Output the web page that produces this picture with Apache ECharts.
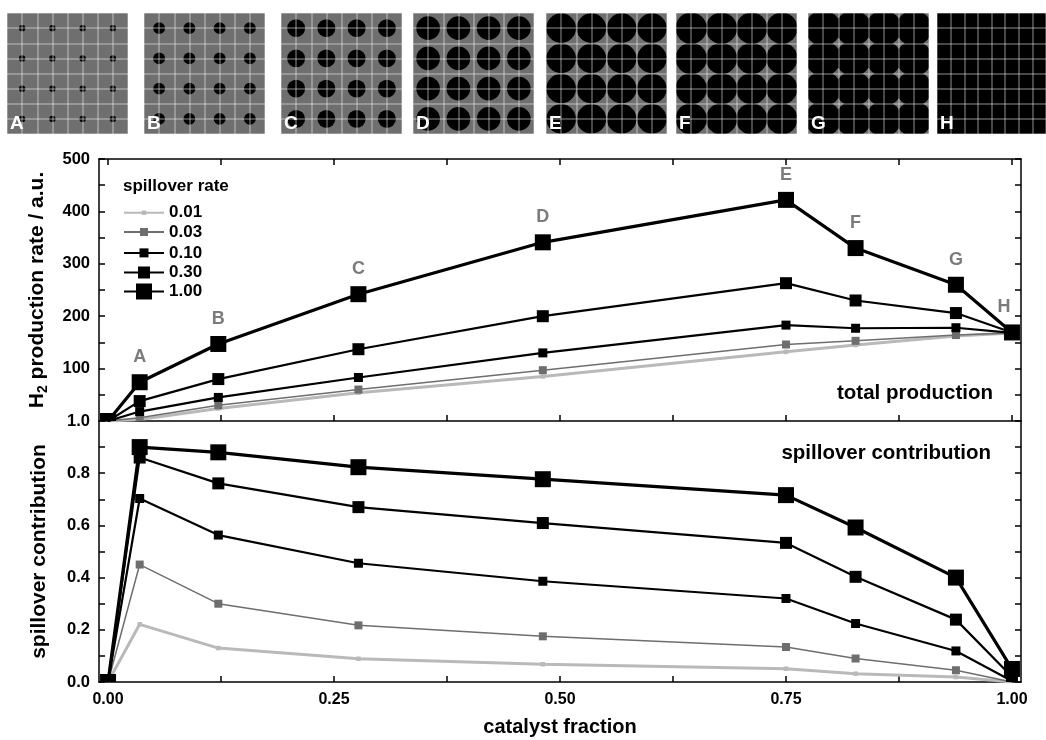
<!DOCTYPE html>
<html>
<head>
<meta charset="utf-8">
<script src="https://cdn.jsdelivr.net/npm/echarts@6/dist/echarts.min.js"></script>
<style>
html, body { margin: 0; padding: 0; background: #fff; }
#chart { width: 1046px; height: 740px; }
</style>
</head>
<body>
<div id="chart"></div>
<script>
// ---- data ----
const catalystFraction = [0, 0.035, 0.122, 0.277, 0.481, 0.75, 0.827, 0.938, 1.0];
const pointLetters = ['', 'A', 'B', 'C', 'D', 'E', 'F', 'G', 'H'];
const spilloverRates = ['0.01', '0.03', '0.10', '0.30', '1.00'];

// total H2 production rate (a.u.)
const prod001 = [0, 3, 24, 54, 85, 132, 145, 162, 168];
const prod003 = [0, 6, 30, 60, 97, 146, 153, 164, 168];
const prod010 = [0, 18, 45, 83, 130, 183, 177, 178, 168];
const prod030 = [0, 38, 80, 137, 200, 263, 230, 206, 169];
const prod100 = [0, 74, 147, 242, 341, 422, 330, 260, 169];

// spillover contribution (fraction of total)
const spill001 = [0, 0.221, 0.130, 0.089, 0.068, 0.051, 0.032, 0.019, 0];
const spill003 = [0, 0.450, 0.300, 0.217, 0.175, 0.134, 0.090, 0.045, 0];
const spill010 = [0, 0.703, 0.563, 0.455, 0.386, 0.320, 0.224, 0.119, 0.004];
const spill030 = [0, 0.860, 0.761, 0.670, 0.609, 0.533, 0.403, 0.239, 0.020];
const spill100 = [0, 0.900, 0.880, 0.823, 0.777, 0.716, 0.592, 0.400, 0.050];

// catalyst dot layouts: one 4x4 pattern per letter, dot radius in cell units
const layoutLetters = ['A', 'B', 'C', 'D', 'E', 'F', 'G', 'H'];
const dotRadius = [0.105, 0.197, 0.297, 0.391, 0.489, 0.517, 0.588, 0.75];

// axis ticks
const prodTicks = [0, 100, 200, 300, 400, 500];
const spillTicks = [0, 0.2, 0.4, 0.6, 0.8, 1.0];
const fractionLabels = [0, 0.25, 0.5, 0.75, 1.0];
const fractionTicks = [0, 0.125, 0.25, 0.375, 0.5, 0.625, 0.75, 0.875, 1.0];

// ---- styles ----
const FONT = '"Liberation Sans", Arial, Helvetica, sans-serif';
const seriesStyle = [
  { color: '#b9b9b9', width: 3,   size: 4.5 },
  { color: '#6e6e6e', width: 1.5, size: 8 },
  { color: '#000000', width: 2.2, size: 9 },
  { color: '#000000', width: 2.2, size: 12 },
  { color: '#000000', width: 3.2, size: 16 }
];
const legendCenters = [207, 228.5, 250, 271.5, 293];
const thumbLeft = [7, 144, 281, 413, 546, 676, 808, 937];
const THUMB_TOP = 13, THUMB_SIZE = 121;

const prodSets = [prod001, prod003, prod010, prod030, prod100];
const spillSets = [spill001, spill003, spill010, spill030, spill100];

const GRID_LEFT = 99, GRID_RIGHT = 25;
const X_MIN = -0.01, X_MAX = 1.01;

const axisLineStyle = { color: '#000', width: 1.5 };
const tickStyle = { color: '#000', width: 1.5 };

// ---- grids ----
const grids = [
  { left: GRID_LEFT, right: GRID_RIGHT, top: 159, height: 262 },
  { left: GRID_LEFT, right: GRID_RIGHT, top: 421, height: 261 }
];
thumbLeft.forEach(l => {
  grids.push({ left: l, top: THUMB_TOP, width: THUMB_SIZE, height: THUMB_SIZE,
    show: true, backgroundColor: '#6f6f6f', borderWidth: 0 });
});

function fractionAxis(gridIndex, position, withLabels) {
  return {
    type: 'value', gridIndex, position, min: X_MIN, max: X_MAX,
    axisLine: { show: true, onZero: false, lineStyle: axisLineStyle },
    axisTick: { show: true, inside: true, length: 6, lineStyle: tickStyle, customValues: fractionTicks },
    axisLabel: withLabels ? {
      show: true, customValues: fractionLabels, margin: 10,
      formatter: v => v.toFixed(2),
      color: '#000', fontFamily: FONT, fontWeight: 'bold', fontSize: 16
    } : { show: false },
    splitLine: { show: false }
  };
}

const xAxes = [
  fractionAxis(0, 'bottom', false),
  fractionAxis(0, 'top', false),
  Object.assign(fractionAxis(1, 'bottom', true), {
    name: 'catalyst fraction', nameLocation: 'middle', nameGap: 35,
    nameTextStyle: { color: '#000', fontFamily: FONT, fontWeight: 'bold', fontSize: 20 }
  })
];

function valueAxis(gridIndex, position, ticks, withLabels, fmt, nameCfg) {
  const step = ticks[1] - ticks[0];
  const ax = {
    type: 'value', gridIndex, position,
    min: ticks[0], max: ticks[ticks.length - 1], interval: step,
    axisLine: { show: true, onZero: false, lineStyle: axisLineStyle },
    axisTick: { show: true, inside: true, length: 6, lineStyle: tickStyle },
    minorTick: { show: true, splitNumber: 2, length: 6, lineStyle: tickStyle },
    splitLine: { show: false },
    minorSplitLine: { show: false },
    axisLabel: withLabels ? {
      show: true, margin: 9, formatter: fmt,
      color: '#000', fontFamily: FONT, fontWeight: 'bold', fontSize: 16.5
    } : { show: false }
  };
  if (nameCfg) Object.assign(ax, nameCfg);
  return ax;
}

const nameRich = {
  b: { fontFamily: FONT, fontWeight: 'bold', fontSize: 21, color: '#000', lineHeight: 26 },
  s: { fontFamily: FONT, fontWeight: 'bold', fontSize: 14, color: '#000', lineHeight: 14, verticalAlign: 'bottom' }
};

const yAxes = [
  valueAxis(0, 'left', prodTicks, true, v => (v === 0 ? '' : String(v)), {
    name: '{b|H}{s|2}{b| production rate / a.u.}',
    nameLocation: 'middle', nameGap: 49,
    nameTextStyle: { rich: nameRich }
  }),
  valueAxis(0, 'right', prodTicks, false),
  valueAxis(1, 'left', spillTicks, true, v => v.toFixed(1), {
    name: 'spillover contribution', nameLocation: 'middle', nameGap: 49,
    nameTextStyle: { color: '#000', fontFamily: FONT, fontWeight: 'bold', fontSize: 21 }
  }),
  valueAxis(1, 'right', spillTicks, false)
];
// ensure the top panel's min label stays hidden
yAxes[0].axisLabel.showMinLabel = false;

// thumbnail axes: cell grid lines drawn over the dots
thumbLeft.forEach((_, k) => {
  const g = k + 2;
  const common = {
    type: 'value', gridIndex: g, min: 0, max: 4, interval: 0.5, z: 5,
    axisLine: { show: false }, axisTick: { show: false }, axisLabel: { show: false },
    splitLine: { show: true, lineStyle: { color: 'rgba(255,255,255,0.38)', width: 1.5 } }
  };
  xAxes.push(Object.assign({}, common));
  yAxes.push(Object.assign({}, common));
});

// ---- series ----
const series = [];

function markerRender(style, withLetters) {
  return function (params, api) {
    const p = api.coord([api.value(0), api.value(1)]);
    const s = style.size;
    const children = [{
      type: 'rect',
      shape: { x: p[0] - s / 2, y: p[1] - s / 2, width: s, height: s },
      style: { fill: style.color }
    }];
    if (withLetters) {
      const letter = pointLetters[params.dataIndex];
      if (letter) {
        children.push({
          type: 'text',
          x: p[0] + (letter === 'H' ? -8 : 0),
          y: p[1] - 25,
          style: {
            text: letter, fill: '#7b7b7b',
            font: 'bold 18px ' + FONT,
            align: 'center', verticalAlign: 'middle'
          }
        });
      }
    }
    return { type: 'group', children };
  };
}

[[prodSets, 0, 0], [spillSets, 2, 2]].forEach(([sets, xi, yi], panel) => {
  sets.forEach((vals, i) => {
    const st = seriesStyle[i];
    const data = catalystFraction.map((x, k) => [x, vals[k]]);
    series.push({
      type: 'line', name: spilloverRates[i],
      xAxisIndex: xi, yAxisIndex: yi, data,
      symbol: 'rect', symbolSize: st.size, showSymbol: false,
      lineStyle: { color: st.color, width: st.width },
      itemStyle: { color: st.color },
      clip: true, z: 2 + i * 0.2, silent: true
    });
    series.push({
      type: 'custom', name: spilloverRates[i],
      xAxisIndex: xi, yAxisIndex: yi, data,
      clip: true, z: 2.1 + i * 0.2, silent: true,
      renderItem: markerRender(st, panel === 0 && i === spilloverRates.length - 1)
    });
  });
});

// catalyst dot patterns
dotRadius.forEach((r, k) => {
  const dots = [];
  for (let ix = 0; ix < 4; ix++) {
    for (let iy = 0; iy < 4; iy++) dots.push([ix + 0.5, iy + 0.5, r]);
  }
  series.push({
    type: 'custom', xAxisIndex: k + 3, yAxisIndex: k + 4, data: dots,
    clip: true, silent: true, z: 2,
    renderItem(params, api) {
      const c = api.coord([api.value(0), api.value(1)]);
      const sz = api.size([api.value(2), api.value(2)]);
      return { type: 'circle', shape: { cx: c[0], cy: c[1], r: sz[0] }, style: { fill: '#000' } };
    }
  });
});

// ---- legend: one block per rate so each keeps its own marker size ----
const legends = spilloverRates.map((name, i) => {
  const h = seriesStyle[i].size / 0.8;
  return {
    data: [name], orient: 'vertical', left: 123, top: legendCenters[i] - h / 2,
    itemWidth: 40, itemHeight: h, padding: 0, selectedMode: false,
    textStyle: { color: '#000', fontFamily: FONT, fontWeight: 'bold', fontSize: 17 }
  };
});

// ---- free text ----
const graphics = [
  { type: 'text', x: 123, y: 186, z: 10,
    style: { text: 'spillover rate', fill: '#000', font: 'bold 17px ' + FONT, align: 'left', verticalAlign: 'middle' } },
  { type: 'text', x: 993, y: 393, z: 10,
    style: { text: 'total production', fill: '#000', font: 'bold 20.5px ' + FONT, align: 'right', verticalAlign: 'middle' } },
  { type: 'text', x: 991, y: 453, z: 10,
    style: { text: 'spillover contribution', fill: '#000', font: 'bold 20.5px ' + FONT, align: 'right', verticalAlign: 'middle' } }
];
layoutLetters.forEach((t, k) => {
  graphics.push({
    type: 'text', x: thumbLeft[k] + 3, y: THUMB_TOP + THUMB_SIZE - 1, z: 100,
    style: { text: t, fill: '#fff', font: 'bold 19px ' + FONT, align: 'left', verticalAlign: 'bottom' }
  });
});

const chart = echarts.init(document.getElementById('chart'), null, { renderer: 'canvas' });
chart.setOption({
  backgroundColor: '#fff',
  animation: false,
  grid: grids,
  xAxis: xAxes,
  yAxis: yAxes,
  legend: legends,
  graphic: graphics,
  series
});
</script>
</body>
</html>
